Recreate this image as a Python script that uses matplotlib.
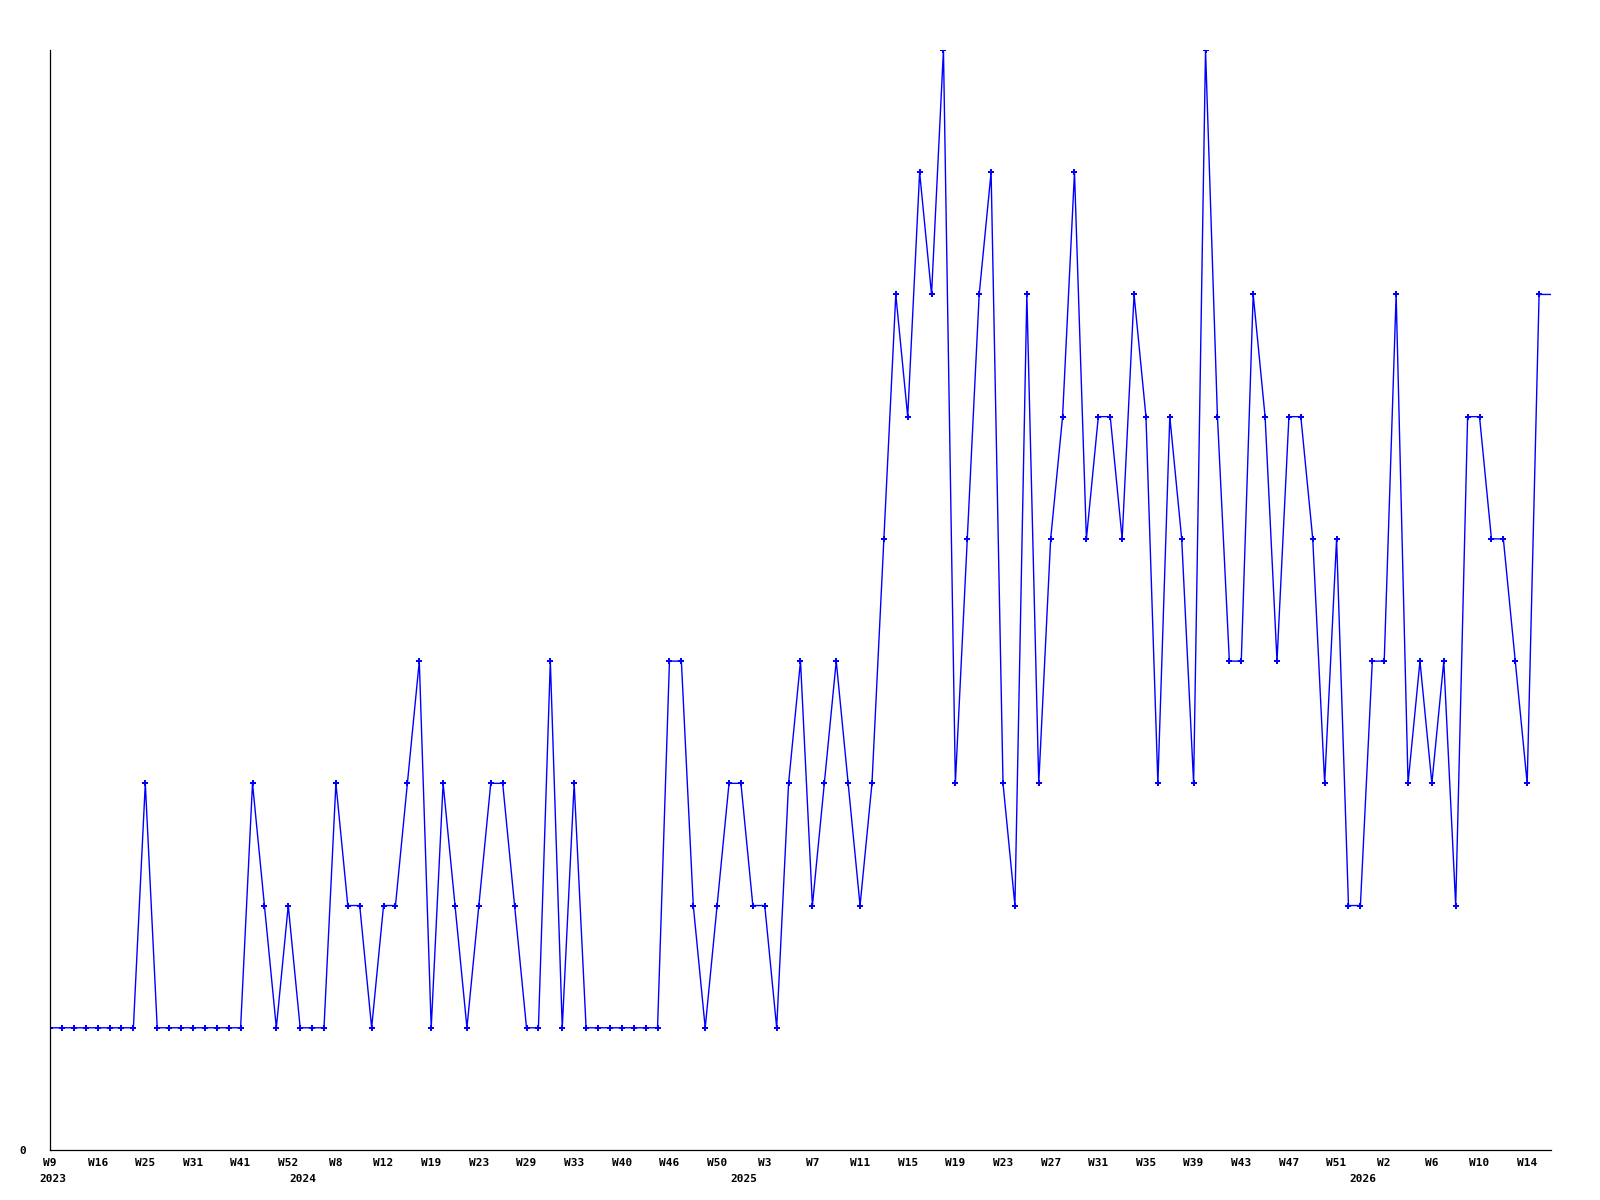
import matplotlib.pyplot as plt
from matplotlib.transforms import blended_transform_factory

# weekly counts, one per plotted week; the last entry is the running week (no marker)
values = [1, 1, 1, 1, 1, 1, 1, 1, 3, 1, 1, 1, 1, 1, 1, 1,
          1, 3, 2, 1, 2, 1, 1, 1, 3, 2, 2, 1, 2, 2, 3, 4,
          1, 3, 2, 1, 2, 3, 3, 2, 1, 1, 4, 1, 3, 1, 1, 1,
          1, 1, 1, 1, 4, 4, 2, 1, 2, 3, 3, 2, 2, 1, 3, 4,
          2, 3, 4, 3, 2, 3, 5, 7, 6, 8, 7, 9, 3, 5, 7, 8,
          3, 2, 7, 3, 5, 6, 8, 5, 6, 6, 5, 7, 6, 3, 6, 5,
          3, 9, 6, 4, 4, 7, 6, 4, 6, 6, 5, 3, 5, 2, 2, 4,
          4, 7, 3, 4, 3, 4, 2, 6, 6, 5, 5, 4, 3, 7,
          7]

week_labels = ["W9", "W16", "W25", "W31", "W41", "W52", "W8", "W12",
               "W19", "W23", "W29", "W33", "W40", "W46", "W50", "W3",
               "W7", "W11", "W15", "W19", "W23", "W27", "W31", "W35",
               "W39", "W43", "W47", "W51", "W2", "W6", "W10", "W14"]
label_every = 4

years = ["2023", "2024", "2025", "2026"]
year_start = [0, 21, 58, 110]

font = dict(family="DejaVu Sans Mono", fontweight="bold", fontsize=8)

fig = plt.figure(figsize=(16, 12), dpi=100)
ax = fig.add_axes([50 / 1600, 50 / 1200, 1501 / 1600, 1100 / 1200])

x = list(range(len(values)))
ax.plot(x, values, color="#0000ff", lw=1.0, marker="P", ms=5, mew=0,
        markevery=list(range(len(values) - 1)))

ax.set_xlim(0, len(values) - 1)
ax.set_ylim(0, 9)

for s in ["top", "right"]:
    ax.spines[s].set_visible(False)
for s in ["left", "bottom"]:
    ax.spines[s].set_linewidth(0.9)

ax.set_xticks(range(0, len(week_labels) * label_every, label_every))
ax.set_xticklabels(week_labels, **font)
ax.set_yticks([0])
ax.set_yticklabels(["0"], **font)
ax.tick_params(axis="x", length=0, pad=6)
ax.tick_params(axis="y", length=0, pad=17)

tr = blended_transform_factory(ax.transData, ax.transAxes)
for yr, i in zip(years, year_start):
    ax.text(i + 0.25, -0.026, yr, transform=tr, ha="center", va="center", **font)

fig.savefig("out.png")
